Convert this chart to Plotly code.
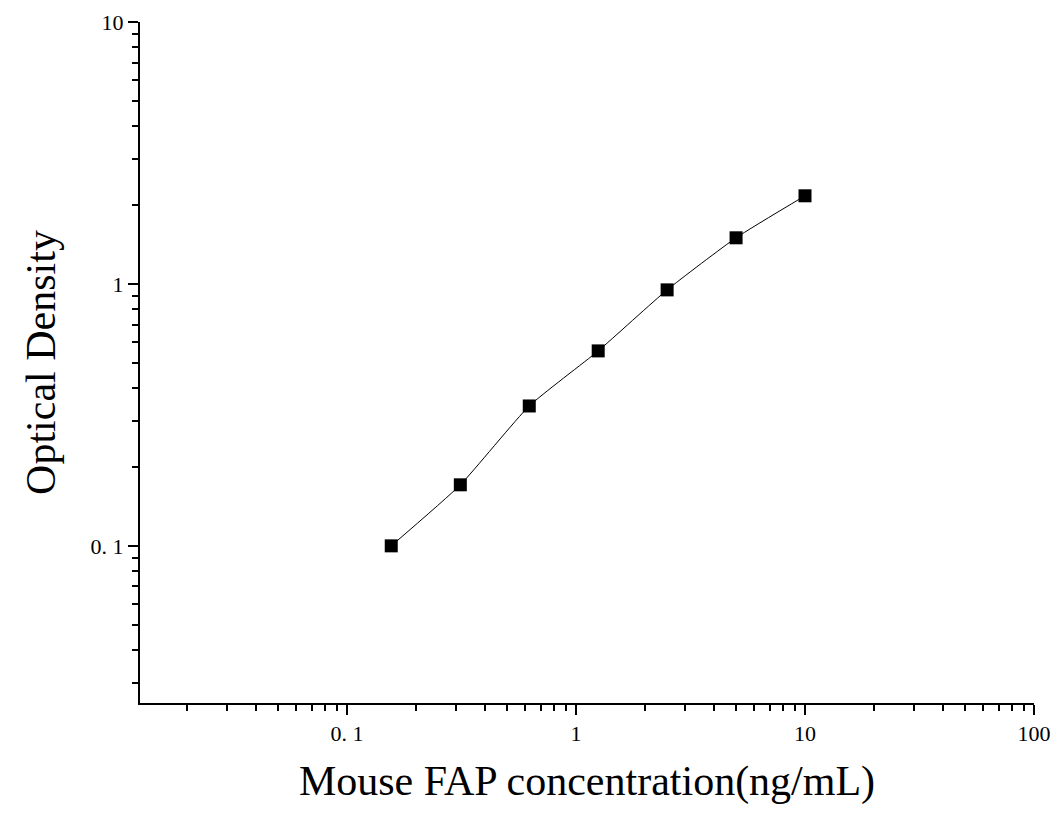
import plotly.graph_objects as go

conc = [0.156, 0.3125, 0.625, 1.25, 2.5, 5, 10]
od = [0.100, 0.171, 0.342, 0.555, 0.949, 1.50, 2.17]

x_ticks = [0.1, 1, 10, 100]
x_labels = ["0. 1", "1", "10", "100"]
y_ticks = [0.1, 1, 10]
y_labels = ["0. 1", "1", "10"]

font = "Liberation Serif"

fig = go.Figure()
fig.add_trace(go.Scatter(
    x=conc, y=od, mode="lines+markers",
    line=dict(color="black", width=1, shape="spline", smoothing=0.5),
    marker=dict(symbol="square", size=13, color="black"),
    showlegend=False
))

axis_common = dict(
    type="log", showgrid=False, zeroline=False, automargin=False,
    showline=True, linecolor="black", linewidth=2,
    ticks="outside", ticklen=10, tickwidth=2, tickcolor="black",
    tickfont=dict(family=font, size=22, color="black"),
    minor=dict(ticks="outside", ticklen=6, tickwidth=2, tickcolor="black", dtick="D1", showgrid=False),
)

fig.update_layout(
    width=1059, height=819,
    plot_bgcolor="white", paper_bgcolor="white",
    margin=dict(l=132, r=33, t=14, b=124),
    xaxis=dict(axis_common, range=[-1.904, 2], tickvals=x_ticks, ticktext=x_labels,
               title=dict(text="Mouse FAP concentration(ng/mL)", font=dict(family=font, size=42, color="black"), standoff=20)),
    yaxis=dict(axis_common, range=[-1.6, 1], tickvals=y_ticks, ticktext=y_labels,
               title=dict(text="Optical Density", font=dict(family=font, size=42, color="black"), standoff=22)),
)

fig.write_html("out.html")
